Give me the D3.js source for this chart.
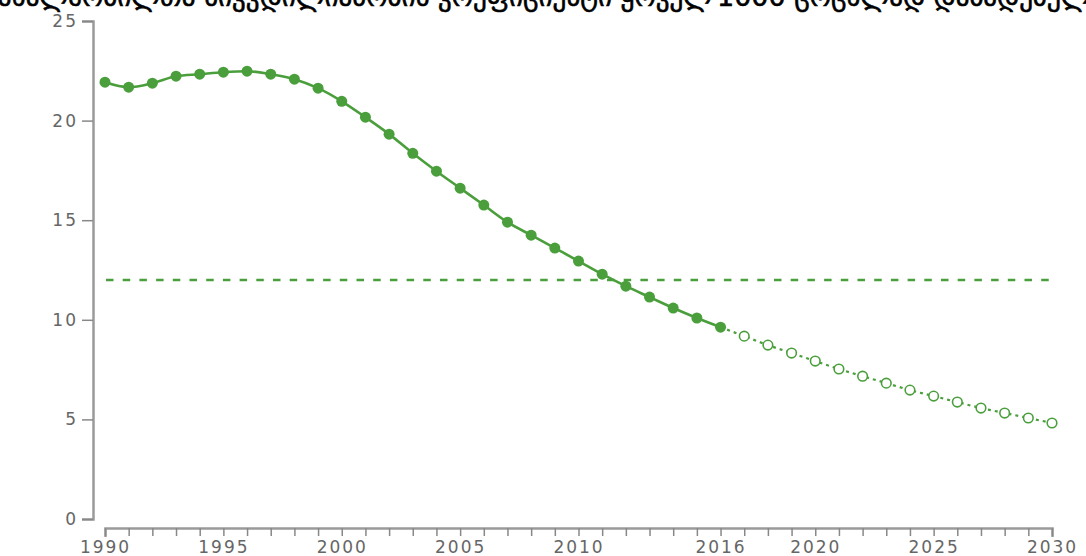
<!DOCTYPE html>
<html><head><meta charset="utf-8">
<script src="https://cdn.jsdelivr.net/npm/d3@7/dist/d3.min.js"></script>
<style>
html,body{margin:0;padding:0;background:#fff;overflow:hidden;}
</style></head>
<body><svg id="c" width="1086" height="556"></svg>
<script>
const titleLeft = "3.2.2 ახალშობილთა სიკვდილიანობის კოეფიციენტი ყოველ";
const titleRight = "1000 ცოცხლად დაბადებულ ბავშვზე, საქართველო";
const actualYears = d3.range(1990, 2017);
const actualValues = [21.93,21.68,21.88,22.23,22.33,22.43,22.48,22.33,22.08,21.63,20.97,20.17,19.32,18.36,17.46,16.61,15.76,14.90,14.25,13.60,12.95,12.29,11.69,11.14,10.59,10.09,9.63];
const forecastYears = d3.range(2016, 2031);
const forecastValues = [9.63,9.18,8.73,8.33,7.93,7.53,7.17,6.82,6.47,6.17,5.87,5.57,5.32,5.07,4.82];
const targetValue = 12;
const xTickLabels = [1990,1995,2000,2005,2010,2016,2020,2025,2030];
const yTickValues = [0,5,10,15,20,25];

const green = "#4a9f3c";
const svg = d3.select("#c");
const x = d3.scaleLinear().domain([1990,2030]).range([105,1052]);
const y = d3.scaleLinear().domain([0,25]).range([519,21]);

// title (cropped at top, as in the reference)
svg.append("text").attr("x",712).attr("y",6).attr("text-anchor","end")
  .attr("font-family","DejaVu Sans").attr("font-size",27)
  .attr("stroke","#000").attr("stroke-width",0.6)
  .attr("fill","#000").text(titleLeft);
svg.append("text").attr("x",717).attr("y",6)
  .attr("font-family","DejaVu Sans").attr("font-size",27)
  .attr("stroke","#000").attr("stroke-width",0.6)
  .attr("fill","#000").text(titleRight);

// y axis
const yAxis = svg.append("g").attr("transform","translate(93,0)")
  .call(d3.axisLeft(y).tickValues(yTickValues).tickSize(11).tickSizeOuter(11).tickPadding(6));
yAxis.select(".domain").attr("stroke","#9a9a9a").attr("stroke-width",2.5);
yAxis.selectAll(".tick line").attr("stroke","#888").attr("stroke-width",1.5);
yAxis.selectAll(".tick text").attr("font-family","DejaVu Sans").attr("font-size",17)
  .attr("fill","#666").attr("letter-spacing","2px").attr("dx","2");

// x axis
const xAxis = svg.append("g").attr("transform","translate(0,528)")
  .call(d3.axisBottom(x).tickValues(d3.range(1990,2031)).tickSize(8).tickSizeOuter(9)
    .tickFormat(d => xTickLabels.includes(d) ? String(d) : ""));
xAxis.select(".domain").attr("stroke","#9a9a9a").attr("stroke-width",2.5);
xAxis.selectAll(".tick line").attr("stroke","#888").attr("stroke-width",1.5);
xAxis.selectAll(".tick text").attr("font-family","DejaVu Sans").attr("font-size",17)
  .attr("fill","#666").attr("letter-spacing","2px").attr("dy","0.85em");

// target line
svg.append("line").attr("x1",x(1990)+1).attr("x2",x(2030)).attr("y1",y(targetValue)).attr("y2",y(targetValue))
  .attr("stroke",green).attr("stroke-width",2.5).attr("stroke-dasharray","7.5,9.2");

const line = d3.line().x(d=>x(d[0])).y(d=>y(d[1])).curve(d3.curveMonotoneX);

// forecast line
const fData = forecastYears.map((yr,i)=>[yr,forecastValues[i]]);
svg.append("path").datum(fData).attr("d",line).attr("fill","none")
  .attr("stroke",green).attr("stroke-width",2.2).attr("stroke-dasharray","3,4");

// actual line
const aData = actualYears.map((yr,i)=>[yr,actualValues[i]]);
svg.append("path").datum(aData).attr("d",line).attr("fill","none")
  .attr("stroke",green).attr("stroke-width",2.6);

// forecast circles
svg.append("g").selectAll("circle").data(fData.slice(1)).join("circle")
  .attr("cx",d=>x(d[0])).attr("cy",d=>y(d[1])).attr("r",4.8)
  .attr("fill","#fff").attr("stroke",green).attr("stroke-width",1.6);

// actual circles
svg.append("g").selectAll("circle").data(aData).join("circle")
  .attr("cx",d=>x(d[0])).attr("cy",d=>y(d[1])).attr("r",5.5)
  .attr("fill",green);
</script></body></html>
